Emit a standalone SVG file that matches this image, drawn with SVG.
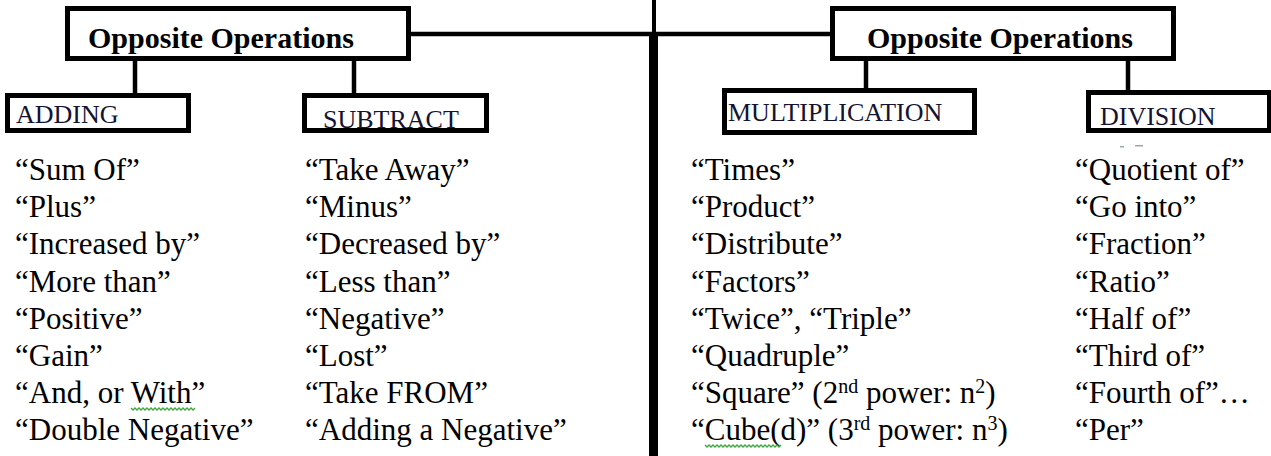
<svg xmlns="http://www.w3.org/2000/svg" width="1271" height="456" viewBox="0 0 1271 456">
<style>
.box{fill:#fff;stroke:#000;stroke-width:5}
.conn{stroke:#000;stroke-width:4.5;fill:none}
.title{font-family:'Liberation Serif','Times New Roman','DejaVu Serif',serif;font-weight:bold;font-size:30px;fill:#000}
.label{font-family:'Liberation Serif','Times New Roman','DejaVu Serif',serif;font-size:26px;fill:#141432}
.body text{font-family:'Liberation Serif','Times New Roman','DejaVu Serif',serif;font-size:31px;fill:#000}
.sq{fill:none;stroke:#3da83d;stroke-width:1.3}
</style>
<rect width="1271" height="456" fill="#fff"/>
<g id="connectors">
<line class="conn" x1="654" y1="0" x2="654" y2="36" style="stroke-width:4"/>
<line class="conn" x1="653.5" y1="34" x2="653.5" y2="456" style="stroke-width:9"/>
<line class="conn" x1="409" y1="34" x2="833" y2="34"/>
<line class="conn" x1="135" y1="60" x2="135" y2="95"/>
<line class="conn" x1="354" y1="60" x2="354" y2="95"/>
<line class="conn" x1="866" y1="60" x2="866" y2="90"/>
<line class="conn" x1="1128" y1="60" x2="1128" y2="93"/>
</g>
<g id="ops-left">
<rect class="box" x="67.5" y="8.5" width="341" height="50"/>
<text class="title" x="88" y="48">Opposite Operations</text>
</g>
<g id="ops-right">
<rect class="box" x="832.5" y="8.5" width="341" height="50"/>
<text class="title" x="867" y="48">Opposite Operations</text>
</g>
<g id="adding">
<rect class="box" x="7.5" y="95.5" width="181" height="35"/>
<text class="label" x="16" y="123">ADDING</text>
</g>
<g id="subtract">
<rect class="box" x="304.5" y="95.5" width="182" height="35"/>
<text class="label" x="323" y="128">SUBTRACT</text>
</g>
<g id="multiplication">
<rect class="box" x="724.5" y="90.5" width="250" height="42"/>
<text class="label" x="728" y="121">MULTIPLICATION</text>
</g>
<g id="division">
<rect class="box" x="1088.5" y="92.5" width="181" height="38"/>
<text class="label" x="1100" y="125">DIVISION</text>
<rect x="1120" y="146" width="4" height="1.5" fill="#9aa"/>
<rect x="1135" y="145" width="8" height="1.5" fill="#9aa"/>
</g>
<g id="adding-terms" class="body">
<text x="15" y="180">“Sum Of”</text>
<text x="15" y="217">“Plus”</text>
<text x="15" y="254">“Increased by”</text>
<text x="15" y="292">“More than”</text>
<text x="15" y="329">“Positive”</text>
<text x="15" y="366">“Gain”</text>
<text x="15" y="403">“And, or With”</text>
<text x="15" y="440">“Double Negative”</text>
<path class="sq" d="M131,408 l2,2 l2,-2 l2,2 l2,-2 l2,2 l2,-2 l2,2 l2,-2 l2,2 l2,-2 l2,2 l2,-2 l2,2 l2,-2 l2,2 l2,-2 l2,2 l2,-2 l2,2 l2,-2 l2,2 l2,-2 l2,2 l2,-2 l2,2 l2,-2 l2,2 l2,-2 l2,2 l2,-2 l2,2 l2,-2"/>
</g>
<g id="subtract-terms" class="body">
<text x="305" y="180">“Take Away”</text>
<text x="305" y="217">“Minus”</text>
<text x="305" y="254">“Decreased by”</text>
<text x="305" y="292">“Less than”</text>
<text x="305" y="329">“Negative”</text>
<text x="305" y="366">“Lost”</text>
<text x="305" y="403">“Take FROM”</text>
<text x="305" y="440">“Adding a Negative”</text>
</g>
<g id="multiplication-terms" class="body">
<text x="691" y="180">“Times”</text>
<text x="691" y="217">“Product”</text>
<text x="691" y="254">“Distribute”</text>
<text x="691" y="292">“Factors”</text>
<text x="691" y="329">“Twice”, “Triple”</text>
<text x="691" y="366">“Quadruple”</text>
<text x="691" y="403">“Square” (2<tspan font-size="20" dy="-10">nd</tspan><tspan dy="10"> power: n</tspan><tspan font-size="20" dy="-10">2</tspan><tspan dy="10">)</tspan></text>
<text x="691" y="440">“Cube(d)” (3<tspan font-size="20" dy="-10">rd</tspan><tspan dy="10"> power: n</tspan><tspan font-size="20" dy="-10">3</tspan><tspan dy="10">)</tspan></text>
<path class="sq" d="M705,445 l2,2 l2,-2 l2,2 l2,-2 l2,2 l2,-2 l2,2 l2,-2 l2,2 l2,-2 l2,2 l2,-2 l2,2 l2,-2 l2,2 l2,-2 l2,2 l2,-2 l2,2 l2,-2 l2,2 l2,-2 l2,2 l2,-2 l2,2 l2,-2 l2,2 l2,-2 l2,2 l2,-2 l2,2 l2,-2 l2,2 l2,-2 l2,2 l2,-2 l2,2 l2,-2"/>
</g>
<g id="division-terms" class="body">
<text x="1075" y="180">“Quotient of”</text>
<text x="1075" y="217">“Go into”</text>
<text x="1075" y="254">“Fraction”</text>
<text x="1075" y="292">“Ratio”</text>
<text x="1075" y="329">“Half of”</text>
<text x="1075" y="366">“Third of”</text>
<text x="1075" y="403">“Fourth of”…</text>
<text x="1075" y="440">“Per”</text>
</g>
</svg>
